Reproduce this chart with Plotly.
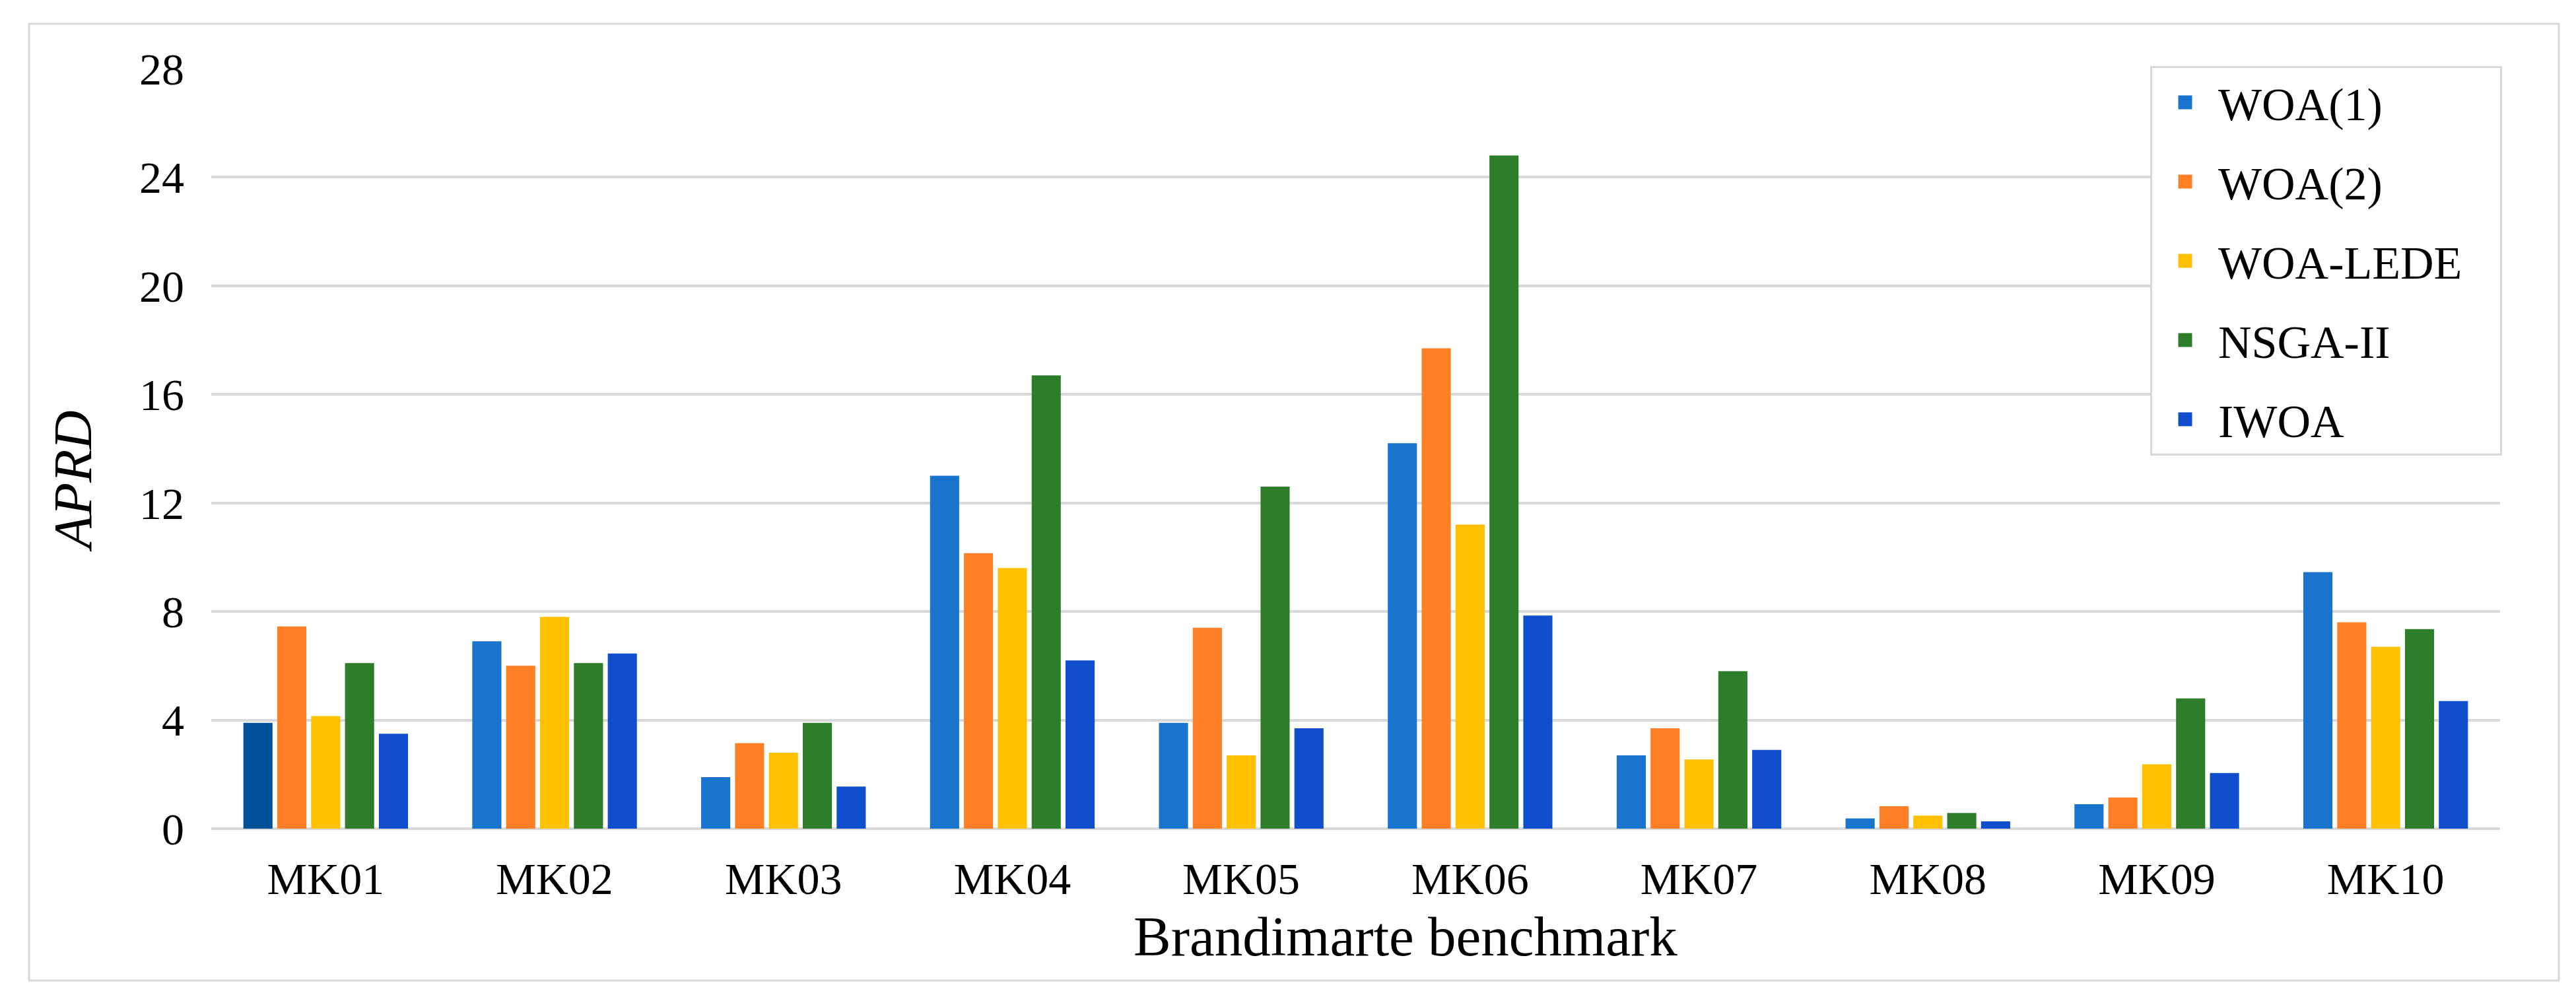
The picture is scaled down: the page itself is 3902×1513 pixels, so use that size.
import plotly.graph_objects as go

categories = ["MK01", "MK02", "MK03", "MK04", "MK05", "MK06", "MK07", "MK08", "MK09", "MK10"]
woa1 = [3.9, 6.9, 1.9, 13.0, 3.9, 14.2, 2.7, 0.38, 0.9, 9.45]
woa2 = [7.45, 6.0, 3.15, 10.15, 7.4, 17.7, 3.7, 0.83, 1.15, 7.6]
woa_lede = [4.15, 7.8, 2.8, 9.6, 2.7, 11.2, 2.55, 0.48, 2.37, 6.7]
nsga2 = [6.1, 6.1, 3.9, 16.7, 12.6, 24.8, 5.8, 0.58, 4.8, 7.35]
iwoa = [3.5, 6.45, 1.55, 6.2, 3.7, 7.85, 2.9, 0.27, 2.05, 4.7]
series_names = ["WOA(1)", "WOA(2)", "WOA-LEDE", "NSGA-II", "IWOA"]
y_ticks = [0, 4, 8, 12, 16, 20, 24, 28]

colors = ["#1874CD", "#FF7F27", "#FFC000", "#2E7D2A", "#104ECE"]
first_bar_color = "#00509A"

W, H = 3902, 1513
L, R, T, B = 312, 3779, 96, 1247
pw, ph = R - L, B - T

def px(x):
    return (x - L) / pw

def py(y):
    return (B - y) / ph

FONT = "Liberation Serif"

fig = go.Figure()
all_series = [woa1, woa2, woa_lede, nsga2, iwoa]
for i, (name, vals) in enumerate(zip(series_names, all_series)):
    if i == 0:
        mc = [first_bar_color] + [colors[0]] * (len(vals) - 1)
    else:
        mc = colors[i]
    fig.add_trace(go.Bar(
        x=categories, y=vals, name=name,
        marker=dict(color=mc, line=dict(width=0)),
        legendgroup=name, showlegend=False,
    ))

# legend entries (square swatches); trailing no-break spaces give the box its right padding
for i, name in enumerate(series_names):
    fig.add_trace(go.Scatter(
        x=[None], y=[None], mode="markers", name=name + "\u00a0\u00a0\u00a0",
        marker=dict(symbol="square", size=16, color=colors[i],
                    line=dict(color=colors[i], width=5)),
        legendgroup=name, showlegend=True, hoverinfo="skip",
    ))

fig.update_layout(
    width=W, height=H,
    margin=dict(l=L, r=W - R, t=T, b=H - B),
    paper_bgcolor="white", plot_bgcolor="white",
    barmode="group", bargap=0.26, bargroupgap=0.14,
    font=dict(family=FONT, size=68, color="black"),
    showlegend=True,
    legend=dict(
        x=px(3782), y=py(92), xanchor="right", yanchor="top",
        bordercolor="#D9D9D9", borderwidth=3, bgcolor="white",
        font=dict(family=FONT, size=70, color="black"),
        tracegroupgap=26,
        itemwidth=90,
    ),
    xaxis=dict(
        showgrid=False, showline=False, zeroline=False, ticks="",
        tickfont=dict(family=FONT, size=68, color="black"),
        ticklabelstandoff=30,
    ),
    yaxis=dict(
        range=[0, 28], tickvals=y_ticks, ticktext=[str(v) for v in y_ticks],
        showgrid=True, gridcolor="#D9D9D9", gridwidth=4,
        zeroline=True, zerolinecolor="#D9D9D9", zerolinewidth=4,
        showline=False, ticks="",
        tickfont=dict(family=FONT, size=68, color="black"),
        ticklabelstandoff=40,
    ),
)

fig.add_annotation(
    text="Brandimarte benchmark", xref="paper", yref="paper",
    x=px(2121), y=py(1410), xanchor="center", yanchor="middle",
    showarrow=False, font=dict(family=FONT, size=85, color="black"),
)
fig.add_annotation(
    text="<i>APRD</i>", xref="paper", yref="paper",
    x=px(102), y=py(721), xanchor="center", yanchor="middle",
    textangle=-90, showarrow=False,
    font=dict(family=FONT, size=82, color="black"),
)
fig.add_shape(
    type="rect", xref="paper", yref="paper",
    x0=px(36), x1=px(3868), y0=py(1477), y1=py(28),
    line=dict(color="#D9D9D9", width=3), fillcolor="rgba(0,0,0,0)", layer="below",
)

fig.write_html("out.html")
